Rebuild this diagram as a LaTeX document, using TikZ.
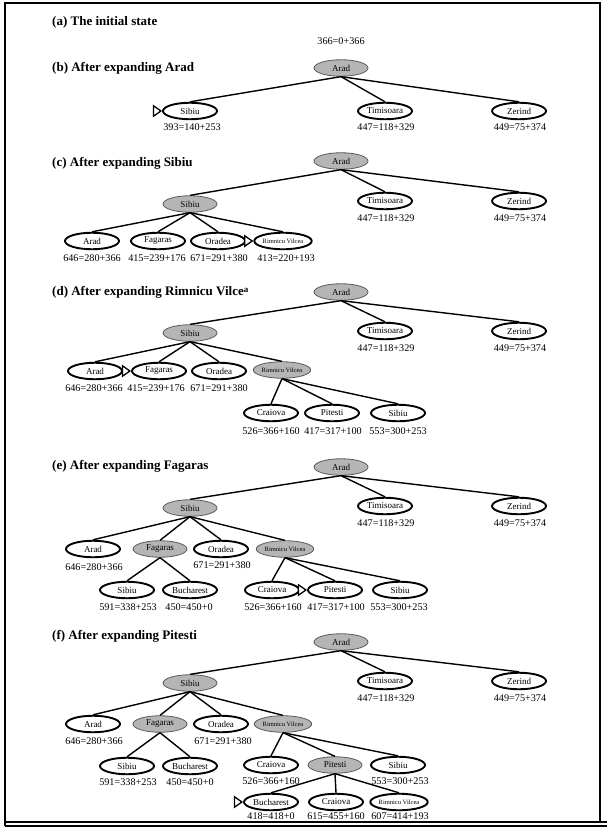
\documentclass[tikz,border=0pt]{standalone}
\usepackage{fontspec}
\setmainfont{Liberation Serif}
\usetikzlibrary{shapes.geometric}
\begin{document}
\begin{tikzpicture}[x=1pt,y=-1pt,
  open/.style={ellipse, draw, line width=1.9pt, minimum width=54pt, minimum height=16.5pt, inner sep=0pt, font=\fontsize{9}{9}\selectfont},
  done/.style={open, draw=black!65, line width=0.8pt, fill=gray!58},
  rv/.style={font=\fontsize{6.5}{7}\selectfont},
  lab/.style={font=\fontsize{10.2}{11}\selectfont, inner sep=0pt},
  ttl/.style={font=\fontsize{13}{13}\selectfont\bfseries, anchor=west, inner sep=0pt},
  edge/.style={line width=1.4pt},
  nextmark/.style={isosceles triangle, isosceles triangle apex angle=70, draw, line width=1.3pt, minimum size=7.5pt, inner sep=0pt, anchor=apex, fill=white},
  frame/.style={line width=1.4pt}]
\useasboundingbox (0,0) rectangle (607,832);
% frame
\coordinate (f1) at (5,3);
\coordinate (f2) at (600,3);
\coordinate (f3) at (600,822);
\coordinate (f4) at (5,826);
\coordinate (f5) at (607,822);
\coordinate (f6) at (607,826);
\coordinate (f7) at (5,822);
\draw[frame] (f4) -- (f1) -- (f2) -- (f3);
\draw[frame] (f7) -- (f5);
\draw[frame] (f4) -- (f6);

% (a)
\node[ttl] (ta) at (52,22) {(a) The initial state};
\node[lab] (la) at (341,41) {366=0+366};

% (b)
\node[ttl] (tb) at (52,68) {(b) After expanding Arad};
\node[done] (bA) at (341,68) {Arad};
\node[open] (bS) at (190,111) {Sibiu};
\node[open] (bT) at (385,111) {Timisoara};
\node[open] (bZ) at (519,111) {Zerind};
\node[nextmark] (bm) at (bS.west) {};
\node[lab] at (192,127) {393=140+253};
\node[lab] at (386,127) {447=118+329};
\node[lab] at (520,127) {449=75+374};
\foreach \c in {bS,bT,bZ} \draw[edge] (bA.south) -- (\c.north);

% (c)
\node[ttl] (tc) at (52,163) {(c) After expanding Sibiu};
\node[done] (cA) at (341,161) {Arad};
\node[done] (cS) at (190,204) {Sibiu};
\node[open] (cT) at (385,201) {Timisoara};
\node[open] (cZ) at (519,201) {Zerind};
\node[lab] at (386,218) {447=118+329};
\node[lab] at (520,218) {449=75+374};
\node[open] (cSA) at (92,241) {Arad};
\node[open] (cSF) at (158,241) {Fagaras};
\node[open] (cSO) at (218,241) {Oradea};
\node[open,rv] (cSR) at (283,241) {Rimnicu Vilcea};
\node[nextmark] (cm) at (cSR.west) {};
\node[lab] at (92,258) {646=280+366};
\node[lab] at (157,258) {415=239+176};
\node[lab] at (219,258) {671=291+380};
\node[lab] at (286,258) {413=220+193};
\foreach \c in {cS,cT,cZ} \draw[edge] (cA.south) -- (\c.north);
\foreach \c in {cSA,cSF,cSO,cSR} \draw[edge] (cS.south) -- (\c.north);

% (d)
\node[ttl] (td) at (52,292) {(d) After expanding Rimnicu Vilce\raisebox{3pt}{\fontsize{9}{9}\selectfont a}};
\node[done] (dA) at (341,292) {Arad};
\node[done] (dS) at (190,333) {Sibiu};
\node[open] (dT) at (385,331) {Timisoara};
\node[open] (dZ) at (519,331) {Zerind};
\node[lab] at (386,348) {447=118+329};
\node[lab] at (520,348) {449=75+374};
\node[open] (dSA) at (95,371) {Arad};
\node[open] (dSF) at (159,371) {Fagaras};
\node[open] (dSO) at (219,371) {Oradea};
\node[done,rv] (dSR) at (282,370) {Rimnicu Vilcea};
\node[nextmark] (dm) at (dSF.west) {};
\node[lab] at (94,388) {646=280+366};
\node[lab] at (156,388) {415=239+176};
\node[lab] at (219,388) {671=291+380};
\node[open] (dRC) at (271,413) {Craiova};
\node[open] (dRP) at (332,413) {Pitesti};
\node[open] (dRS) at (398,413) {Sibiu};
\node[lab] at (271,431) {526=366+160};
\node[lab] at (333,431) {417=317+100};
\node[lab] at (398,431) {553=300+253};
\foreach \c in {dS,dT,dZ} \draw[edge] (dA.south) -- (\c.north);
\foreach \c in {dSA,dSF,dSO,dSR} \draw[edge] (dS.south) -- (\c.north);
\foreach \c in {dRC,dRP,dRS} \draw[edge] (dSR.south) -- (\c.north);

% (e)
\node[ttl] (te) at (52,466) {(e) After expanding Fagaras};
\node[done] (eA) at (341,467) {Arad};
\node[done] (eS) at (190,508) {Sibiu};
\node[open] (eT) at (385,506) {Timisoara};
\node[open] (eZ) at (519,506) {Zerind};
\node[lab] at (386,523) {447=118+329};
\node[lab] at (520,523) {449=75+374};
\node[open] (eSA) at (93,549) {Arad};
\node[done] (eSF) at (160,549) {Fagaras};
\node[open] (eSO) at (221,549) {Oradea};
\node[done,rv] (eSR) at (285,549) {Rimnicu Vilcea};
\node[lab] at (94,567) {646=280+366};
\node[lab] at (222,565) {671=291+380};
\node[open] (eFS) at (127,590) {Sibiu};
\node[open] (eFB) at (190,590) {Bucharest};
\node[lab] at (128,607) {591=338+253};
\node[lab] at (189,607) {450=450+0};
\node[open] (eRC) at (272,590) {Craiova};
\node[open] (eRP) at (335,590) {Pitesti};
\node[open] (eRS) at (400,590) {Sibiu};
\node[nextmark] (em) at (eRP.west) {};
\node[lab] at (273,607) {526=366+160};
\node[lab] at (336,607) {417=317+100};
\node[lab] at (399,607) {553=300+253};
\foreach \c in {eS,eT,eZ} \draw[edge] (eA.south) -- (\c.north);
\foreach \c in {eSA,eSF,eSO,eSR} \draw[edge] (eS.south) -- (\c.north);
\foreach \c in {eFS,eFB} \draw[edge] (eSF.south) -- (\c.north);
\foreach \c in {eRC,eRP,eRS} \draw[edge] (eSR.south) -- (\c.north);

% (f)
\node[ttl] (tf) at (52,636) {(f) After expanding Pitesti};
\node[done] (fA) at (341,642) {Arad};
\node[done] (fS) at (190,683) {Sibiu};
\node[open] (fT) at (385,681) {Timisoara};
\node[open] (fZ) at (519,681) {Zerind};
\node[lab] at (386,698) {447=118+329};
\node[lab] at (520,698) {449=75+374};
\node[open] (fSA) at (93,724) {Arad};
\node[done] (fSF) at (160,724) {Fagaras};
\node[open] (fSO) at (221,724) {Oradea};
\node[done,rv] (fSR) at (283,724) {Rimnicu Vilcea};
\node[lab] at (94,741) {646=280+366};
\node[lab] at (223,741) {671=291+380};
\node[open] (fFS) at (127,766) {Sibiu};
\node[open] (fFB) at (190,766) {Bucharest};
\node[lab] at (128,782) {591=338+253};
\node[lab] at (190,782) {450=450+0};
\node[open] (fRC) at (271,765) {Craiova};
\node[done] (fRP) at (335,765) {Pitesti};
\node[open] (fRS) at (398,765) {Sibiu};
\node[lab] at (271,781) {526=366+160};
\node[lab] at (400,781) {553=300+253};
\node[open] (fPB) at (271,802) {Bucharest};
\node[open] (fPC) at (336,802) {Craiova};
\node[open,rv] (fPR) at (399,802) {Rimnicu Vilcea};
\node[nextmark] (fm) at (fPB.west) {};
\node[lab] at (271,816) {418=418+0};
\node[lab] at (336,816) {615=455+160};
\node[lab] at (400,816) {607=414+193};
\foreach \c in {fS,fT,fZ} \draw[edge] (fA.south) -- (\c.north);
\foreach \c in {fSA,fSF,fSO,fSR} \draw[edge] (fS.south) -- (\c.north);
\foreach \c in {fFS,fFB} \draw[edge] (fSF.south) -- (\c.north);
\foreach \c in {fRC,fRP,fRS} \draw[edge] (fSR.south) -- (\c.north);
\foreach \c in {fPB,fPC,fPR} \draw[edge] (fRP.south) -- (\c.north);
\end{tikzpicture}
\end{document}
